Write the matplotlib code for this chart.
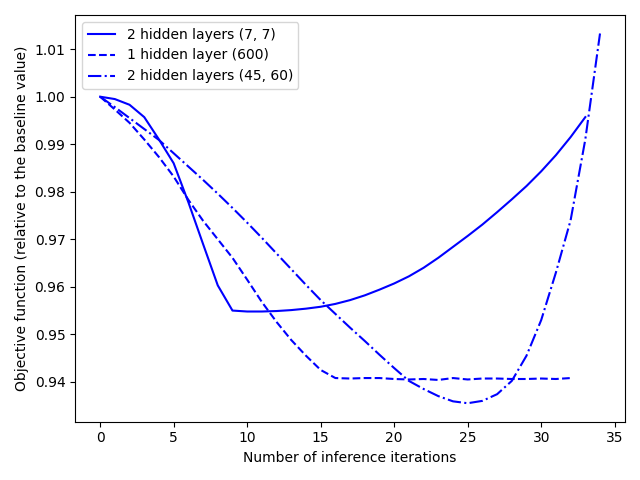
import matplotlib
matplotlib.use("Agg")
import matplotlib.pyplot as plt

x_77 = list(range(34))
y_77 = [1.0, 0.9995, 0.9983, 0.9957, 0.9910, 0.9860, 0.9778, 0.9690, 0.9603, 0.9550,
        0.9548, 0.9548, 0.9549, 0.9551, 0.9554, 0.9558, 0.9564, 0.9572, 0.9582, 0.9594,
        0.9607, 0.9622, 0.9640, 0.9661, 0.9684, 0.9707, 0.9731, 0.9757, 0.9784, 0.9812,
        0.9843, 0.9877, 0.9915, 0.9957]

x_600 = list(range(33))
y_600 = [1.0, 0.9973, 0.9945, 0.9910, 0.9873, 0.9832, 0.9783, 0.9739, 0.9700, 0.9661,
         0.9615, 0.9568, 0.9526, 0.9488, 0.9455, 0.9425, 0.9408, 0.9407, 0.9408, 0.9408,
         0.9406, 0.9405, 0.9406, 0.9404, 0.9408, 0.9405, 0.9407, 0.9407, 0.9406, 0.9406,
         0.9407, 0.9406, 0.9408]

x_4560 = list(range(35))
y_4560 = [1.0, 0.9978, 0.9955, 0.9932, 0.9909, 0.9881, 0.9853, 0.9825, 0.9796, 0.9766,
          0.9735, 0.9703, 0.9670, 0.9637, 0.9604, 0.9572, 0.9543, 0.9514, 0.9486, 0.9457,
          0.9429, 0.9402, 0.9385, 0.9370, 0.9359, 0.9355, 0.9360, 0.9374, 0.9402, 0.9455,
          0.9530, 0.9630, 0.9740, 0.9910, 1.0133]

labels = ["2 hidden layers (7, 7)", "1 hidden layer (600)", "2 hidden layers (45, 60)"]

fig, ax = plt.subplots(figsize=(6.4, 4.8), dpi=100)
ax.plot(x_77, y_77, "b-", label=labels[0])
ax.plot(x_600, y_600, "b--", label=labels[1])
ax.plot(x_4560, y_4560, "b-.", label=labels[2])
ax.set_xlabel("Number of inference iterations")
ax.set_ylabel("Objective function (relative to the baseline value)")
ax.legend(loc="upper left")
fig.tight_layout()
fig.savefig("out.png")
